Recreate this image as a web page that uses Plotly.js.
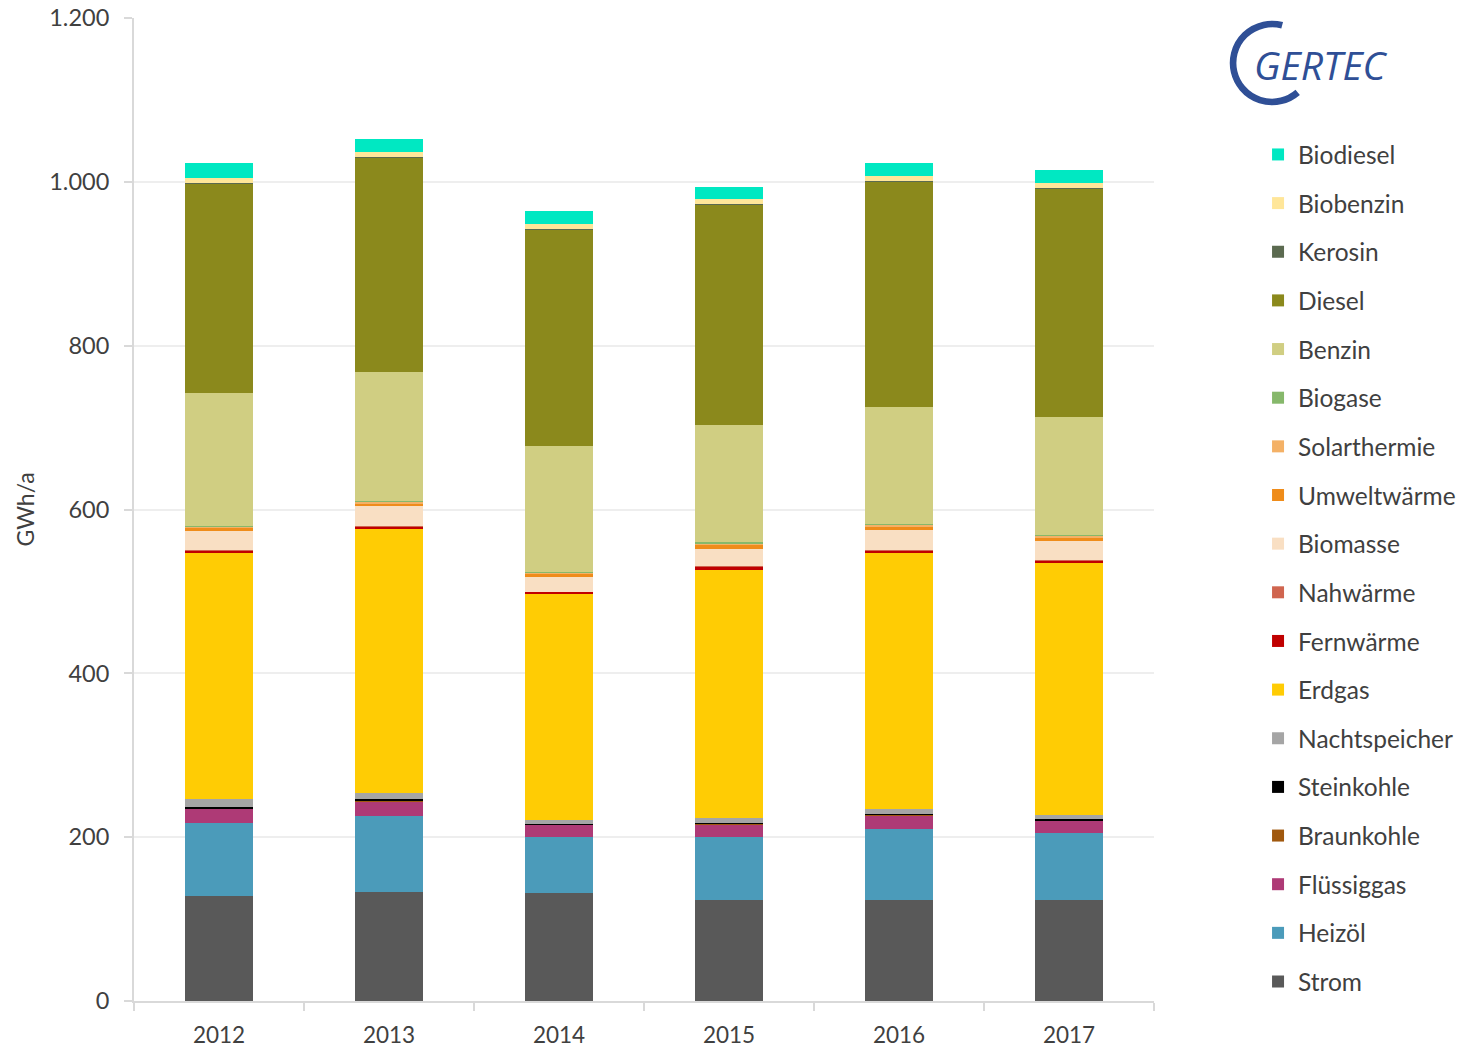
<!DOCTYPE html>
<html>
<head>
<meta charset="utf-8">
<script src="https://cdn.plot.ly/plotly-3.0.1.min.js"></script>
<style>
html,body{margin:0;padding:0;background:#fff;}
#chart{width:1462px;height:1048px;}
</style>
</head>
<body>
<div id="chart"></div>
<script>
// ---- data (GWh/a) ----
const years = ['2012', '2013', '2014', '2015', '2016', '2017'];
const strom         = [128, 133, 132, 123, 123, 123];
const heizoel       = [89, 93, 68, 77, 87, 82];
const fluessiggas   = [18, 18, 15, 16, 17, 15];
const braunkohle    = [0.5, 0.5, 0.3, 0.3, 0.3, 0.3];
const steinkohle    = [1.5, 1.5, 1.2, 1.2, 1.5, 1.8];
const nachtspeicher = [9, 8, 5, 6, 6, 5];
const erdgas        = [301, 322, 275, 303, 312, 308];
const fernwaerme    = [2.8, 3.3, 2.8, 3.6, 3.2, 2.4];
const nahwaerme     = [0.4, 0.8, 0.4, 0.4, 0.4, 0.4];
const biomasse      = [24, 24, 17.5, 21, 24, 23.5];
const umweltwaerme  = [3.6, 3.6, 4.5, 4.8, 4.5, 4.8];
const solarthermie  = [1.5, 1.5, 0.8, 2.5, 2.2, 2.2];
const biogase       = [0.8, 1.0, 1.5, 1.0, 0.6, 1.0];
const benzin        = [162, 158, 153, 143, 144, 143];
const diesel        = [256, 262, 265, 270, 275, 280];
const kerosin       = [1, 0.5, 1, 0.5, 0.5, 0.5];
const biobenzin     = [5.6, 6, 5.7, 6, 6.5, 6];
const biodiesel     = [18, 15, 16, 14, 15, 15];

const seriesNames = ['Strom', 'Heizöl', 'Flüssiggas', 'Braunkohle', 'Steinkohle', 'Nachtspeicher',
  'Erdgas', 'Fernwärme', 'Nahwärme', 'Biomasse', 'Umweltwärme', 'Solarthermie', 'Biogase',
  'Benzin', 'Diesel', 'Kerosin', 'Biobenzin', 'Biodiesel'];
const seriesValues = [strom, heizoel, fluessiggas, braunkohle, steinkohle, nachtspeicher,
  erdgas, fernwaerme, nahwaerme, biomasse, umweltwaerme, solarthermie, biogase,
  benzin, diesel, kerosin, biobenzin, biodiesel];
const seriesColors = ['#595959', '#4B9BBA', '#AE3A76', '#A0580E', '#000000', '#A5A5A5',
  '#FFCC04', '#C00000', '#D0654F', '#F9DFC3', '#EF8C1A', '#F4B166', '#86B86B',
  '#D0CE82', '#8B891C', '#5B6A50', '#FFE699', '#00E8C2'];

const traces = seriesNames.map((name, i) => ({
  type: 'bar',
  name: name,
  x: years,
  y: seriesValues[i],
  legendgroup: 'g' + i,
  legendrank: 100 - i,
  marker: {color: seriesColors[i], line: {width: 0}},
  hovertemplate: name + ': %{y}<extra></extra>'
}));

const txtColor = '#404040';
const fontFam = 'Lato, "Noto Sans", sans-serif';

// logo ring (decoration) as an svg image
const ringSvg = '<svg xmlns="http://www.w3.org/2000/svg" viewBox="0 0 100 100">' +
  '<path d="M61.4,7.5 A44,44 0 1 0 78.9,83.2" fill="none" stroke="#2F4F96" stroke-width="7.5"/></svg>';
const ringUri = 'data:image/svg+xml;base64,' + btoa(ringSvg);

const layout = {
  width: 1462,
  height: 1048,
  margin: {l: 134, r: 308, t: 18, b: 47, pad: 0, autoexpand: false},
  paper_bgcolor: '#ffffff',
  plot_bgcolor: '#ffffff',
  separators: ',.',
  barmode: 'stack',
  bargap: 0.6,
  font: {family: fontFam, color: txtColor, size: 20},
  showlegend: true,
  legend: {
    x: 1.102, xanchor: 'left',
    y: 0.884, yanchor: 'top',
    traceorder: 'grouped',
    tracegroupgap: 13.8,
    maxheight: 1000,
    font: {family: fontFam, size: 24.5, color: txtColor},
    bgcolor: 'rgba(0,0,0,0)',
    itemclick: false
  },
  xaxis: {
    type: 'category',
    showgrid: false,
    showline: true,
    linecolor: '#D9D9D9',
    linewidth: 2,
    ticks: 'outside',
    tickson: 'boundaries',
    ticklen: 8,
    tickcolor: '#D9D9D9',
    tickwidth: 2,
    ticklabelstandoff: 13,
    tickfont: {family: fontFam, size: 22.5, color: txtColor},
    fixedrange: true
  },
  yaxis: {
    range: [0, 1200],
    dtick: 200,
    tickformat: ',d',
    showgrid: true,
    gridcolor: '#EEEEEE',
    gridwidth: 2,
    zeroline: false,
    showline: true,
    linecolor: '#D9D9D9',
    linewidth: 2,
    ticks: 'outside',
    ticklen: 8,
    tickcolor: '#D9D9D9',
    tickwidth: 2,
    ticklabelstandoff: 10,
    tickfont: {family: fontFam, size: 23.5, color: txtColor},
    title: {text: 'GWh/a', font: {family: fontFam, size: 23, color: txtColor}, standoff: 8},
    automargin: false,
    fixedrange: true
  },
  images: [{
    source: ringUri,
    xref: 'paper', yref: 'paper',
    x: 1.0723, y: 0.9993,
    sizex: 0.0869, sizey: 0.0901,
    xanchor: 'left', yanchor: 'top',
    sizing: 'stretch',
    layer: 'above'
  }],
  annotations: [{
    text: 'GERTEC',
    xref: 'paper', yref: 'paper',
    x: (1321 - 134) / 1020, y: (1001 - 64) / 983,
    xanchor: 'center', yanchor: 'middle',
    showarrow: false,
    font: {family: '"Open Sans", "Noto Sans", sans-serif', size: 39, color: '#2F4F96', style: 'italic'}
  }]
};

Plotly.newPlot('chart', traces, layout, {displayModeBar: false}).then(gd => {
  const svg = gd.querySelector('svg.main-svg');
  const ns = 'http://www.w3.org/2000/svg';
  const defs = document.createElementNS(ns, 'defs');
  const pat = document.createElementNS(ns, 'pattern');
  pat.setAttribute('id', 'bghatch');
  pat.setAttribute('patternUnits', 'userSpaceOnUse');
  pat.setAttribute('width', '8');
  pat.setAttribute('height', '8');
  const r = document.createElementNS(ns, 'rect');
  r.setAttribute('width', '8'); r.setAttribute('height', '8'); r.setAttribute('fill', '#ffffff');
  pat.appendChild(r);
  const l = document.createElementNS(ns, 'path');
  l.setAttribute('d', 'M-2,2 L2,-2 M0,8 L8,0 M6,10 L10,6');
  l.setAttribute('stroke', '#E2E2E2');
  l.setAttribute('stroke-width', '1.5');
  pat.appendChild(l);
  defs.appendChild(pat);
  svg.insertBefore(defs, svg.firstChild);
  const bg = gd.querySelector('.bglayer rect.bg');
  if (bg) bg.style.fill = 'url(#bghatch)';
});
</script>
</body>
</html>
